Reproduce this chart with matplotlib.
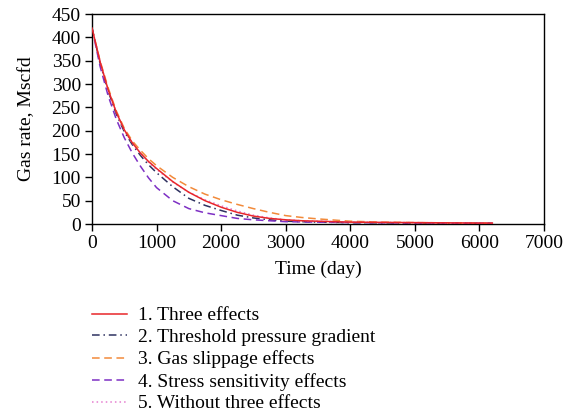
import matplotlib
matplotlib.use("Agg")
import matplotlib.pyplot as plt

# ---------------- DATA ----------------
time_days = [0, 125, 250, 375, 500, 625, 750, 875, 1000, 1250, 1500, 1750,
             2000, 2250, 2500, 2750, 3000, 3250, 3500, 4000, 4500, 5000,
             5500, 6000, 6200]

three_effects = [420, 348, 288, 240, 202, 174, 152, 134, 119, 91, 68, 50,
                 36, 25, 17, 12, 9, 7, 6, 4, 3.5, 3, 2.5, 2, 2]
threshold_gradient = [420, 345, 285, 236, 198, 170, 147, 127, 110, 80, 55, 40,
                      29, 19, 13, 9, 6, 5, 4, 3, 2.5, 2, 1.8, 1.5, 1.5]
gas_slippage = [420, 350, 292, 243, 205, 178, 158, 140, 125, 100, 80, 64,
                52, 42, 33, 25, 18, 14, 11, 6, 4, 3, 2.5, 2, 2]
stress_sensitivity = [420, 338, 275, 225, 185, 152, 124, 99, 78, 50, 33, 24,
                      18, 12, 9, 7, 5, 4.5, 4, 3, 2.5, 2, 1.8, 1.5, 1.5]
without_effects = [420, 348, 288, 240, 201, 173, 152, 133, 117, 90, 68, 52,
                   39, 28, 19, 13, 9, 7, 6, 4, 3.5, 3, 2.5, 2, 2]

labels = ["1. Three effects", "2. Threshold pressure gradient",
          "3. Gas slippage effects", "4. Stress sensitivity effects",
          "5. Without three effects"]
x_ticks = [0, 1000, 2000, 3000, 4000, 5000, 6000, 7000]
y_ticks = [0, 50, 100, 150, 200, 250, 300, 350, 400, 450]
# --------------------------------------

plt.rcParams['font.family'] = ['Liberation Serif', 'DejaVu Serif']
plt.rcParams['font.size'] = 14

fig = plt.figure(figsize=(5.77, 4.17), dpi=100)
ax = fig.add_axes([0.1594, 0.4628, 0.7834, 0.5036])

ax.plot(time_days, three_effects, color='#e8262a', lw=1.1, ls='-', label=labels[0], zorder=5)
ax.plot(time_days, threshold_gradient, color='#2e3160', lw=1.1, ls=(0, (5, 2.5, 1, 2.5)), label=labels[1])
ax.plot(time_days, gas_slippage, color='#f28a3a', lw=1.1, ls=(0, (5, 3)), label=labels[2])
ax.plot(time_days, stress_sensitivity, color='#7d2fc4', lw=1.1, ls=(0, (5, 3)), label=labels[3])
ax.plot(time_days, without_effects, color='#e57fd0', lw=1.1, ls=(0, (1, 2)), label=labels[4])

ax.set_xlim(0, 7000)
ax.set_ylim(0, 450)
ax.set_xticks(x_ticks)
ax.set_yticks(y_ticks)
ax.tick_params(direction='out', length=5, width=1, pad=3)
for s in ax.spines.values():
    s.set_linewidth(1)
ax.set_xlabel("Time (day)", labelpad=6)
ax.set_ylabel("Gas rate, Mscfd", labelpad=12)

handles, lbls = ax.get_legend_handles_labels()
fig.legend(handles, lbls, loc='upper left', bbox_to_anchor=(0.146, 0.283),
           frameon=False, handlelength=1.8, handletextpad=0.55,
           labelspacing=0.22, borderaxespad=0)

fig.savefig("out.png", dpi=100)
